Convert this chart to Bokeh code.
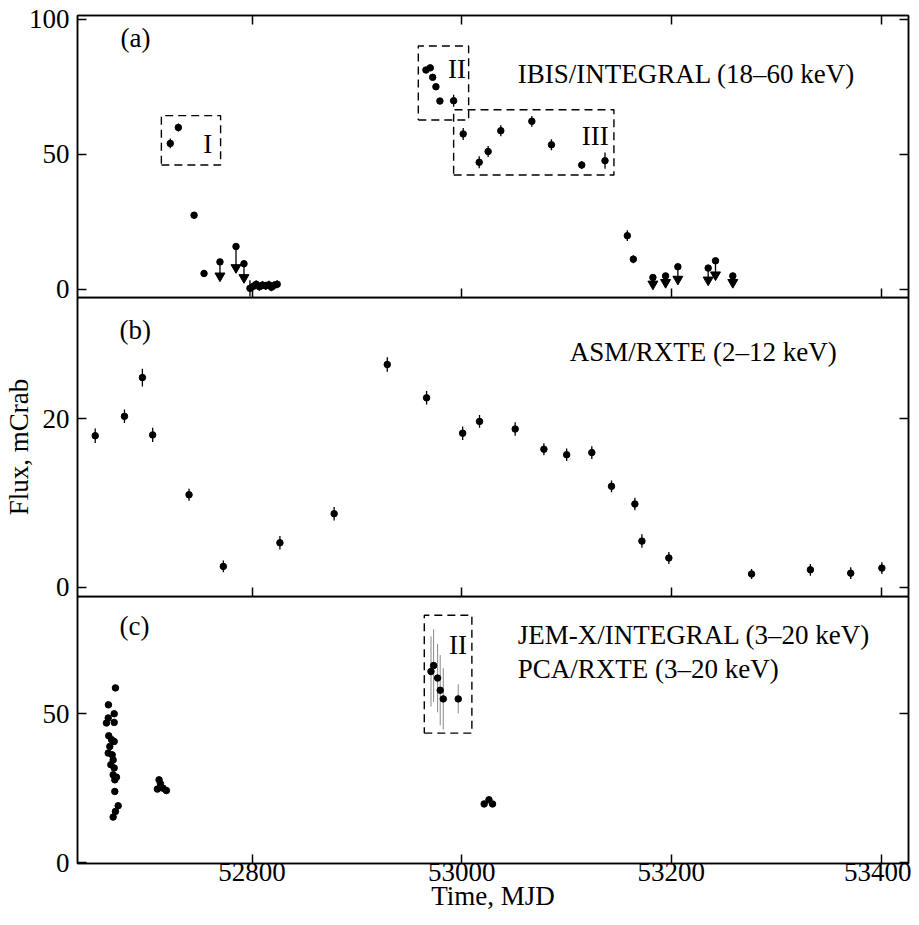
from bokeh.plotting import figure
from bokeh.models import Range1d, FixedTicker, LinearAxis, Label
from bokeh.layouts import column
from bokeh.embed import file_html
from bokeh.resources import INLINE

FONT = "Liberation Serif"
FS = "27px"

# ---------------- data ----------------
x_ticks = [52800, 53000, 53200, 53400]
x_range = (52633.5, 53426.2)

# Panel (a) IBIS/INTEGRAL detections
ibis_mjd = [52722.0, 52729.7, 52744.7, 52754.2,
            52798.0, 52801.0, 52804.0, 52807.0, 52810.0, 52813.0, 52816.0, 52818.5, 52821.0, 52824.0,
            52965.9, 52970.0, 52972.3, 52975.4, 52979.2, 52992.3,
            53001.4, 53016.7, 53025.2, 53037.3, 53066.9, 53085.6, 53114.5, 53136.7,
            53158.0, 53163.7]
ibis_flux = [54.0, 59.9, 27.4, 5.8,
             0.3, 1.0, 1.8, 0.9, 1.5, 1.2, 1.6, 0.7, 1.4, 1.8,
             81.2, 82.0, 78.5, 75.0, 69.7, 69.8,
             57.5, 47.0, 51.0, 58.7, 62.2, 53.5, 46.0, 47.6,
             19.8, 11.1]
ibis_err = [1.8, 1.5, 1.2, 1.2,
            3.0, 1.5, 1.5, 1.5, 1.5, 1.5, 1.5, 1.5, 1.5, 1.5,
            1.0, 1.0, 1.0, 1.0, 1.0, 2.2,
            2.2, 2.2, 2.0, 2.0, 2.0, 2.0, 1.5, 3.0,
            2.0, 1.5]
# Panel (a) upper limits
ul_mjd = [52769.4, 52784.7, 52792.3, 53182.4, 53194.5, 53206.2, 53235.1, 53242.1, 53258.6]
ul_flux = [10.1, 15.8, 9.4, 4.3, 4.9, 8.3, 7.8, 10.5, 4.9]
ul_tip = [4.9, 8.0, 4.3, 1.9, 2.5, 3.7, 3.4, 5.3, 2.5]

# Panel (b) ASM/RXTE
asm_mjd = [52650.4, 52678.3, 52695.4, 52705.2, 52739.9, 52772.6, 52826.6, 52878.3,
           52929.0, 52966.5, 53000.9, 53017.0, 53051.0, 53078.4, 53100.1, 53124.1,
           53142.9, 53165.2, 53171.9, 53197.6, 53276.5, 53332.6, 53371.1, 53400.8]
asm_flux = [18.0, 20.3, 24.9, 18.1, 11.0, 2.5, 5.3, 8.75,
            26.45, 22.5, 18.3, 19.7, 18.8, 16.4, 15.75, 16.0,
            12.0, 9.9, 5.5, 3.5, 1.6, 2.1, 1.7, 2.3]
asm_err = [0.85, 0.8, 1.05, 0.85, 0.7, 0.7, 0.8, 0.8,
           0.85, 0.8, 0.8, 0.75, 0.8, 0.7, 0.75, 0.75,
           0.7, 0.75, 0.8, 0.7, 0.6, 0.7, 0.7, 0.7]

# Panel (c) PCA/RXTE
pca_mjd = [52669.7, 52663.0, 52668.5, 52662.8, 52661.1, 52668.5, 52663.3, 52666.0, 52668.5, 52664.3,
           52662.8, 52666.6, 52667.5, 52665.3, 52668.5, 52667.5, 52670.7, 52669.1, 52669.1, 52672.3,
           52669.7, 52667.5,
           52711.3, 52712.6, 52709.7, 52715.1, 52718.3,
           53021.4, 53026.0, 53029.4]
pca_flux = [58.7, 53.0, 50.0, 48.6, 46.9, 47.1, 42.6, 41.3, 40.7, 39.0,
            36.8, 36.2, 34.5, 32.9, 31.8, 29.5, 28.7, 27.8, 23.9, 19.1,
            17.2, 15.3,
            27.8, 26.5, 24.7, 25.0, 24.2,
            19.7, 21.1, 19.7]
pca_err = [0.8] * 30

# Panel (c) JEM-X/INTEGRAL (revolution II)
jemx_mjd = [52970.7, 52973.2, 52977.0, 52979.5, 52982.4, 52996.7]
jemx_flux = [64.2, 66.2, 62.0, 57.9, 55.0, 55.0]
jemx_err = [11.8, 12.2, 11.5, 11.8, 10.3, 4.9]

# Dashed boxes: (mjd0, mjd1, flux0, flux1)
boxes_a = [(52713.5, 52770.0, 46.0, 64.3),
           (52958.6, 53006.6, 62.7, 90.1),
           (52992.3, 53145.2, 42.3, 66.5)]
box_labels_a = ["I", "II", "III"]
box_label_pos_a = [(52753.5, 53.9), (52986.9, 81.7), (53114.5, 56.9)]
boxes_c = [(52964.3, 53009.7, 43.5, 83.1)]
box_labels_c = ["II"]
box_label_pos_c = [(52987.8, 73.2)]

# ---------------- figures ----------------
xr = Range1d(*x_range)
OVERLAP = 12
LEFT = 76


def hide_labels(ax):
    ax.major_label_text_font_size = "1px"
    ax.major_label_text_color = None
    ax.major_label_standoff = 0
    ax.axis_label = None


def style_axis(ax):
    ax.major_tick_in = 9
    ax.major_tick_out = 0
    ax.minor_tick_line_color = None
    ax.axis_line_width = 1.5
    ax.axis_line_color = "black"
    ax.major_tick_line_width = 1.5
    ax.major_tick_line_color = "black"
    ax.major_label_text_font = FONT
    ax.major_label_text_font_size = FS
    ax.major_label_text_color = "black"
    ax.major_label_standoff = 8


def base_fig(height, yr, yticks, top_border, bottom_border):
    p = figure(width=911, height=height, x_range=xr, y_range=Range1d(*yr),
               output_backend="svg", toolbar_location=None,
               min_border_left=LEFT, min_border_right=3,
               min_border_top=top_border, min_border_bottom=bottom_border)
    p.grid.visible = False
    p.border_fill_color = None
    p.background_fill_color = None
    p.outline_line_color = "black"
    p.outline_line_width = 1.5
    p.xaxis.ticker = FixedTicker(ticks=x_ticks)
    p.yaxis.ticker = FixedTicker(ticks=yticks)
    p.add_layout(LinearAxis(ticker=FixedTicker(ticks=yticks)), "right")
    for ax in p.axis:
        style_axis(ax)
    hide_labels(p.right[0])
    return p


def label(p, x, y, text):
    p.add_layout(Label(x=x, y=y, text=text, text_font=FONT, text_font_size=FS,
                       text_color="black", text_baseline="alphabetic", text_align="left"))


def errpts(p, xs, ys, es, color="black", width=1.3):
    p.segment(x0=xs, y0=[y - e for y, e in zip(ys, es)], x1=xs, y1=[y + e for y, e in zip(ys, es)],
              line_color=color, line_width=width)


def dashed_boxes(p, boxes):
    for (x0, x1, y0, y1) in boxes:
        p.line(x=[x0, x1, x1, x0, x0], y=[y0, y0, y1, y1, y0], line_color="black",
               line_width=1.4, line_dash="8 5")


# Panel (a)
pa = base_fig(15 + 282 + OVERLAP, (-3.1, 101.4), [0, 50, 100], 15, OVERLAP)
hide_labels(pa.below[0])
top_ax = LinearAxis(ticker=FixedTicker(ticks=x_ticks))
pa.add_layout(top_ax, "above")
style_axis(top_ax)
hide_labels(top_ax)
dashed_boxes(pa, boxes_a)
errpts(pa, ibis_mjd, ibis_flux, ibis_err)
pa.scatter(ibis_mjd, ibis_flux, marker="circle", size=6.5, color="black")
pa.segment(x0=ul_mjd, y0=ul_flux, x1=ul_mjd, y1=ul_tip, line_color="black", line_width=1.3)
pa.scatter(ul_mjd, ul_flux, marker="circle", size=6.5, color="black")
pa.scatter(ul_mjd, ul_tip, marker="inverted_triangle", size=10, color="black")
for t, (lx, ly) in zip(box_labels_a, box_label_pos_a):
    label(pa, lx, ly, t)
label(pa, 52674.5, 93.2, "(a)")
label(pa, 53053.5, 79.9, "IBIS/INTEGRAL (18\u201360 keV)")

# Panel (b)
pb = base_fig(299 + OVERLAP, (-1.07, 34.4), [0, 20], 0, OVERLAP)
pb.margin = (-OVERLAP, 0, 0, 0)
hide_labels(pb.below[0])
pb.yaxis[0].axis_label = "Flux, mCrab"
pb.yaxis[0].axis_label_text_font = FONT
pb.yaxis[0].axis_label_text_font_size = FS
pb.yaxis[0].axis_label_text_font_style = "normal"
pb.yaxis[0].axis_label_text_color = "black"
pb.yaxis[0].axis_label_standoff = 6
errpts(pb, asm_mjd, asm_flux, asm_err)
pb.scatter(asm_mjd, asm_flux, marker="circle", size=6.5, color="black")
label(pb, 52673.5, 30.6, "(b)")
label(pb, 53103.0, 27.9, "ASM/RXTE (2\u201312 keV)")

# Panel (c)
pc = base_fig(267 + 56, (-0.3, 89.4), [0, 50], 0, 56)
pc.margin = (-OVERLAP, 0, 0, 0)
pc.xaxis[0].major_label_standoff = -1
pc.xaxis[0].axis_label = "Time, MJD"
pc.xaxis[0].axis_label_text_font = FONT
pc.xaxis[0].axis_label_text_font_size = FS
pc.xaxis[0].axis_label_text_font_style = "normal"
pc.xaxis[0].axis_label_text_color = "black"
pc.xaxis[0].axis_label_standoff = -3
dashed_boxes(pc, boxes_c)
errpts(pc, jemx_mjd, jemx_flux, jemx_err, color="#888888", width=1.0)
pc.scatter(jemx_mjd, jemx_flux, marker="circle", size=6.5, color="black")
errpts(pc, pca_mjd, pca_flux, pca_err)
pc.scatter(pca_mjd, pca_flux, marker="circle", size=6.5, color="black")
for t, (lx, ly) in zip(box_labels_c, box_label_pos_c):
    label(pc, lx, ly, t)
label(pc, 52673.5, 79.6, "(c)")
label(pc, 53053.5, 76.6, "JEM-X/INTEGRAL (3\u201320 keV)")
label(pc, 53053.5, 65.2, "PCA/RXTE (3\u201320 keV)")

layout = column(pa, pb, pc, spacing=0)
open("out.html", "w").write(file_html(layout, INLINE))
